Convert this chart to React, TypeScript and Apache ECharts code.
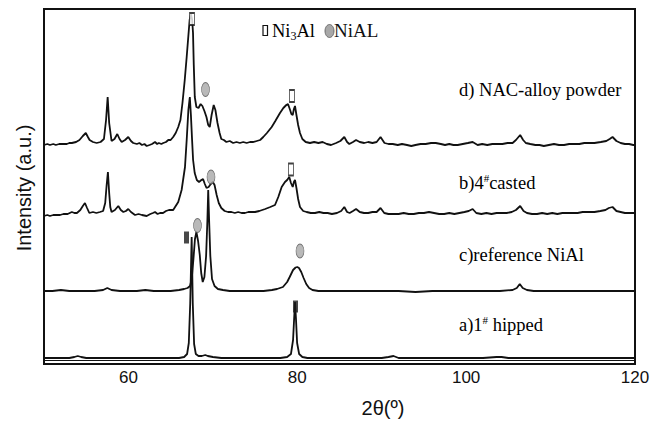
import React, { useEffect, useRef } from 'react';
import * as echarts from 'echarts';

// 2θ range and labelled ticks
const xMin = 50;
const xMax = 120;
const xLabelTicks = [60, 80, 100, 120];

// vertical offsets (a.u.) of each stacked pattern: d, b, c, a
const traceLabels = ['d) NAC-alloy powder', 'b)4#casted', 'c)reference NiAl', 'a)1# hipped'];
const baselineOffsets = [219, 149, 73, 6];

// [2θ, intensity above own baseline]
const traceD: [number, number][] = [
  [50,0],[50.4,1],[50.7,0],[51.1,1],[51.4,0],[51.8,1],[52.2,1],[52.7,1],[53.0,2],[53.3,2],[53.8,3],[54.2,5],[54.6,9],[54.95,12],[55.2,8],[55.4,5],[55.8,3],[56.24,2],[56.7,3],[57.1,6],[57.35,25],[57.54,48],[57.72,22],[58.0,4],[58.35,6],[58.68,11],[58.95,6],[59.2,3],[59.6,5],[59.98,8],[60.3,4],[60.57,2],[61.0,1],[61.3,2],[61.6,0],[61.9,1],[62.16,-1],[62.5,0],[62.8,1],[63.15,3],[63.4,1],[63.6,2],[63.9,1],[64.13,2],[64.45,3],[64.72,5],[65.0,5],[65.3,8],[65.6,12],[65.9,18],[66.16,25],[66.4,42],[66.67,65],[66.9,88],[67.06,105],[67.25,125],[67.4,131],[67.55,125],[67.65,112],[67.74,80],[67.86,48],[68.05,38],[68.3,37],[68.55,41],[68.76,39],[69.0,34],[69.24,28],[69.45,20],[69.63,18],[69.85,30],[70.1,40],[70.3,35],[70.55,22],[70.8,12],[71.0,6],[71.3,5],[71.6,3],[72.0,4],[72.4,2],[72.8,3],[73.2,2],[73.6,3],[74.0,2],[74.4,3],[74.8,3],[75.2,4],[75.6,5],[75.97,8],[76.4,12],[76.97,18],[77.4,24],[77.95,32],[78.35,37],[78.7,40],[78.9,41],[79.15,35],[79.3,31],[79.46,30],[79.6,36],[79.73,39],[79.9,30],[80.1,20],[80.32,12],[80.6,6],[81.0,3],[81.5,2],[82.0,3],[82.5,2],[83.0,3],[83.5,1],[84.0,0],[84.6,2],[85.1,4],[85.57,8],[85.9,3],[86.16,1],[86.6,3],[86.96,5],[87.4,3],[87.93,2],[88.4,3],[88.9,2],[89.4,3],[89.86,8],[90.33,2],[90.8,1],[91.3,1],[91.9,0],[92.4,1],[93.0,0],[93.5,-1],[94.0,0],[94.6,1],[95.2,1],[95.85,2],[96.4,2],[97.0,1],[97.5,0],[98.0,1],[98.5,0],[99.0,0],[99.6,1],[100.2,2],[100.77,3],[101.36,0],[101.9,1],[102.5,0],[103.1,1],[103.7,1],[104.3,1],[104.9,2],[105.5,2],[105.9,5],[106.4,10],[106.75,5],[107.07,2],[107.6,1],[108.2,0],[108.7,0],[109.2,-1],[109.8,0],[110.4,1],[111.0,0],[111.6,0],[112.2,1],[112.8,1],[113.4,1],[114.0,2],[114.57,2],[115.2,2],[115.95,3],[116.6,4],[117.0,6],[117.34,8],[117.8,4],[118.3,2],[118.8,1],[119.3,1],[119.8,0],[120,0]
];

const traceB: [number, number][] = [
  [50,-1],[50.4,0],[50.7,-1],[51.1,0],[51.5,0],[51.9,0],[52.3,1],[52.8,1],[53.3,3],[53.6,2],[53.9,2],[54.3,5],[54.6,9],[54.85,12],[55.1,7],[55.37,2],[55.8,3],[56.2,2],[56.63,3],[57.0,4],[57.25,12],[57.42,30],[57.57,43],[57.72,22],[57.85,8],[58.0,3],[58.4,5],[58.8,9],[59.1,5],[59.4,3],[59.7,4],[59.98,6],[60.3,3],[60.78,0],[61.2,1],[61.6,0],[62.16,-1],[62.6,1],[62.9,2],[63.15,3],[63.45,1],[63.74,2],[64.1,2],[64.45,4],[64.8,5],[65.3,5],[65.6,9],[65.9,13],[66.3,25],[66.7,48],[66.9,75],[67.1,105],[67.27,118],[67.4,100],[67.54,75],[67.66,55],[67.85,42],[68.1,35],[68.36,33],[68.64,35],[68.84,36],[69.05,31],[69.25,27],[69.5,28],[69.75,31],[70.0,33],[70.2,30],[70.45,20],[70.7,12],[71.0,7],[71.4,4],[71.8,3],[72.2,3],[72.6,2],[73.0,3],[73.4,2],[73.8,2],[74.2,3],[74.6,3],[75.0,3],[75.5,4],[76.2,6],[76.8,8],[77.36,10],[77.75,18],[78.15,28],[78.54,33],[78.8,35],[79.05,38],[79.25,32],[79.46,28],[79.6,33],[79.73,35],[79.9,27],[80.1,16],[80.32,8],[80.7,4],[81.1,3],[81.6,2],[82.1,2],[82.6,3],[83.1,2],[83.6,2],[84.1,1],[84.7,2],[85.2,4],[85.57,8],[85.9,3],[86.2,2],[86.6,4],[86.96,6],[87.4,3],[87.9,2],[88.4,2],[88.9,3],[89.4,3],[89.86,7],[90.3,2],[90.8,1],[91.4,1],[92.0,1],[92.6,2],[93.2,1],[93.8,1],[94.4,2],[95.0,2],[95.6,3],[96.2,2],[96.8,1],[97.4,1],[98.0,2],[98.6,1],[99.2,2],[99.8,3],[100.3,4],[100.77,6],[101.2,2],[101.8,1],[102.4,2],[103.0,1],[103.6,2],[104.2,2],[104.8,2],[105.4,3],[105.9,5],[106.4,9],[106.8,4],[107.2,2],[107.8,1],[108.4,1],[109.0,2],[109.6,1],[110.2,2],[110.8,1],[111.4,2],[112.0,2],[112.6,2],[113.2,2],[113.8,3],[114.5,3],[115.2,3],[115.9,4],[116.5,5],[116.9,7],[117.34,8],[117.8,4],[118.3,3],[118.8,2],[119.4,2],[120,2]
];

const traceC: [number, number][] = [
  [50,0],[51,0],[52,1],[53,0],[54,0],[55,0],[56,0],[57,1],[57.5,3],[58,1],[59,0],[60,0],[61,0],[62,1],[63,0],[64,0],[65,0],[66,1],[66.6,2],[67.0,3],[67.3,5],[67.5,12],[67.7,32],[67.88,52],[68.05,59],[68.25,50],[68.45,36],[68.62,18],[68.8,9],[69.0,14],[69.2,35],[69.35,70],[69.45,101],[69.56,70],[69.7,35],[69.9,12],[70.2,5],[70.6,2],[71.2,1],[72,0],[73,0],[74,0],[75,0],[76,0],[77,1],[77.6,2],[78.3,4],[78.8,9],[79.1,14],[79.5,21],[79.8,23.5],[80.0,24],[80.2,23],[80.47,19],[80.75,13],[81.06,7],[81.4,3],[81.8,1],[82.5,0],[84,0],[86,0],[88,0],[90,0],[92,0],[94,-1],[96,0],[98,0],[100,0],[102,0],[104,0],[105.5,1],[106.0,3],[106.35,7],[106.7,3],[107.2,1],[108,0],[110,0],[112,0],[114,0],[116,0],[118,0],[120,0]
];

const traceA: [number, number][] = [
  [50,0],[51,0],[52,0],[53,0],[53.6,1],[54.0,2],[54.4,1],[55,0],[56,0],[57,0],[58,0],[59,0],[60,0],[61,0],[62,0],[63,0],[64,0],[65,0],[66,0],[66.6,1],[66.95,4],[67.15,15],[67.32,55],[67.49,121],[67.62,55],[67.78,14],[67.98,4],[68.3,2],[68.7,2],[69.1,3],[69.4,2],[70,1],[71,0],[72,0],[73,0],[74,0],[75,0],[76,0],[77,0],[78,0],[78.8,1],[79.25,4],[79.5,18],[79.63,40],[79.73,56],[79.84,40],[79.98,15],[80.22,4],[80.6,1],[81.2,0],[82,0],[84,0],[86,0],[88,0],[90,0],[90.8,1],[91.4,2],[92,0],[94,0],[96,0],[98,0],[100,0],[102,0],[103.6,1],[104.2,1],[105,0],[107,0],[109,0],[111,0],[113,0],[115,0],[117,0],[119,0],[120,0]
];

const traces = [traceD, traceB, traceC, traceA];

// phase markers [2θ, absolute a.u.]
const ni3alOpenMarks = [[67.53, 345], [79.37, 268], [79.25, 194.5]];
const ni3alFilledMarks = [[66.88, 126.5], [79.79, 57.5]];
const nialMarks = [[69.13, 274.5], [69.78, 187], [68.18, 138.5], [80.32, 113]];

const ELLIPSE = 'path://M0,50 A50,50 0 1,1 100,50 A50,50 0 1,1 0,50 Z';
const SANS = "'Liberation Sans', Arial, sans-serif";
const SERIF = "'Liberation Serif', 'Times New Roman', serif";
const INK = '#111';

const labelRich = [
  '{t|d) NAC-alloy powder}',
  '{t|b)4}{s|#}{t|casted}',
  '{t|c)reference NiAl}',
  '{t|a)1}{s|#}{t| hipped}',
];
const labelY = [90, 183, 255, 325];

export default function App() {
  const ref = useRef<HTMLDivElement>(null);
  useEffect(() => {
    document.body.style.margin = '0';
    if (!ref.current) return;
    const chart = echarts.init(ref.current, undefined, { renderer: 'svg' });
    const richStyles = {
      t: { fontFamily: SERIF, fontSize: 18.5, lineHeight: 22, color: INK },
      s: { fontFamily: SERIF, fontSize: 11, lineHeight: 11, verticalAlign: 'top', color: INK },
    };
    const lineSeries = traces.map((tr, i) => ({
      type: 'line',
      name: traceLabels[i],
      data: tr.map(([x, y]) => [x, y + baselineOffsets[i]]),
      showSymbol: false,
      symbol: 'none',
      lineStyle: { color: INK, width: 1.8 },
      z: 2,
      ...(i === 3
        ? {
            markLine: {
              silent: true,
              symbol: 'none',
              label: { show: false },
              lineStyle: { color: INK, width: 1, type: 'solid' },
              data: [{ yAxis: 3.5 }],
            },
          }
        : {}),
    }));
    chart.setOption({
      animation: false,
      grid: { left: 44, right: 27, top: 9, bottom: 60, show: true, borderColor: INK, borderWidth: 2 },
      xAxis: {
        type: 'value',
        min: xMin,
        max: xMax,
        interval: 10,
        axisLine: { show: false },
        axisTick: { show: false },
        splitLine: { show: false },
        axisLabel: {
          margin: 5,
          fontSize: 17,
          fontFamily: SANS,
          color: INK,
          showMaxLabel: true,
          formatter: (v: number) => (xLabelTicks.includes(v) ? String(v) : ''),
        },
      },
      yAxis: {
        type: 'value',
        min: 0,
        max: 355,
        axisLine: { show: false },
        axisTick: { show: false },
        splitLine: { show: false },
        axisLabel: { show: false },
      },
      series: [
        ...lineSeries,
        {
          type: 'scatter',
          name: 'Ni3Al',
          data: ni3alOpenMarks,
          symbol: 'rect',
          symbolSize: [5, 12],
          itemStyle: { color: '#fff', borderColor: INK, borderWidth: 1.2 },
          z: 5,
        },
        {
          type: 'scatter',
          name: 'Ni3Al (a)',
          data: ni3alFilledMarks,
          symbol: 'rect',
          symbolSize: [5, 12],
          itemStyle: { color: '#1a1a1a' },
          z: 5,
        },
        {
          type: 'scatter',
          name: 'NiAL',
          data: nialMarks,
          symbol: ELLIPSE,
          symbolSize: [8, 14],
          itemStyle: { color: '#a8a8a8', borderColor: '#555', borderWidth: 0.8 },
          z: 5,
        },
      ],
      graphic: [
        {
          type: 'rect',
          shape: { x: 263, y: 25.5, width: 4.5, height: 10 },
          style: { fill: '#fff', stroke: INK, lineWidth: 1.2 },
        },
        {
          type: 'text',
          x: 272,
          y: 30.5,
          style: {
            text: '{t|Ni}{b|3}{t|Al}',
            verticalAlign: 'middle',
            rich: {
              t: { fontFamily: SERIF, fontSize: 18.5, lineHeight: 22, color: INK },
              b: { fontFamily: SERIF, fontSize: 12, lineHeight: 12, verticalAlign: 'bottom', color: INK },
            },
          },
        },
        {
          type: 'ellipse',
          shape: { cx: 329.5, cy: 31, rx: 4.5, ry: 6.5 },
          style: { fill: '#a8a8a8', stroke: '#555', lineWidth: 0.8 },
        },
        {
          type: 'text',
          x: 334,
          y: 30.5,
          style: { text: 'NiAL', verticalAlign: 'middle', font: `19px ${SERIF}`, fill: INK },
        },
        ...labelRich.map((txt, i) => ({
          type: 'text',
          x: 459,
          y: labelY[i],
          style: { text: txt, verticalAlign: 'middle', rich: richStyles },
        })),
        {
          type: 'text',
          x: 383,
          y: 408,
          style: { text: '2θ(º)', align: 'center', verticalAlign: 'middle', font: `20px ${SANS}`, fill: INK },
        },
        {
          type: 'text',
          x: 24,
          y: 188,
          rotation: Math.PI / 2,
          style: {
            text: 'Intensity (a.u.)',
            align: 'center',
            verticalAlign: 'middle',
            font: `20px ${SANS}`,
            fill: INK,
          },
        },
      ],
    });
    return () => chart.dispose();
  }, []);
  return <div ref={ref} style={{ width: 662, height: 424 }} />;
}
